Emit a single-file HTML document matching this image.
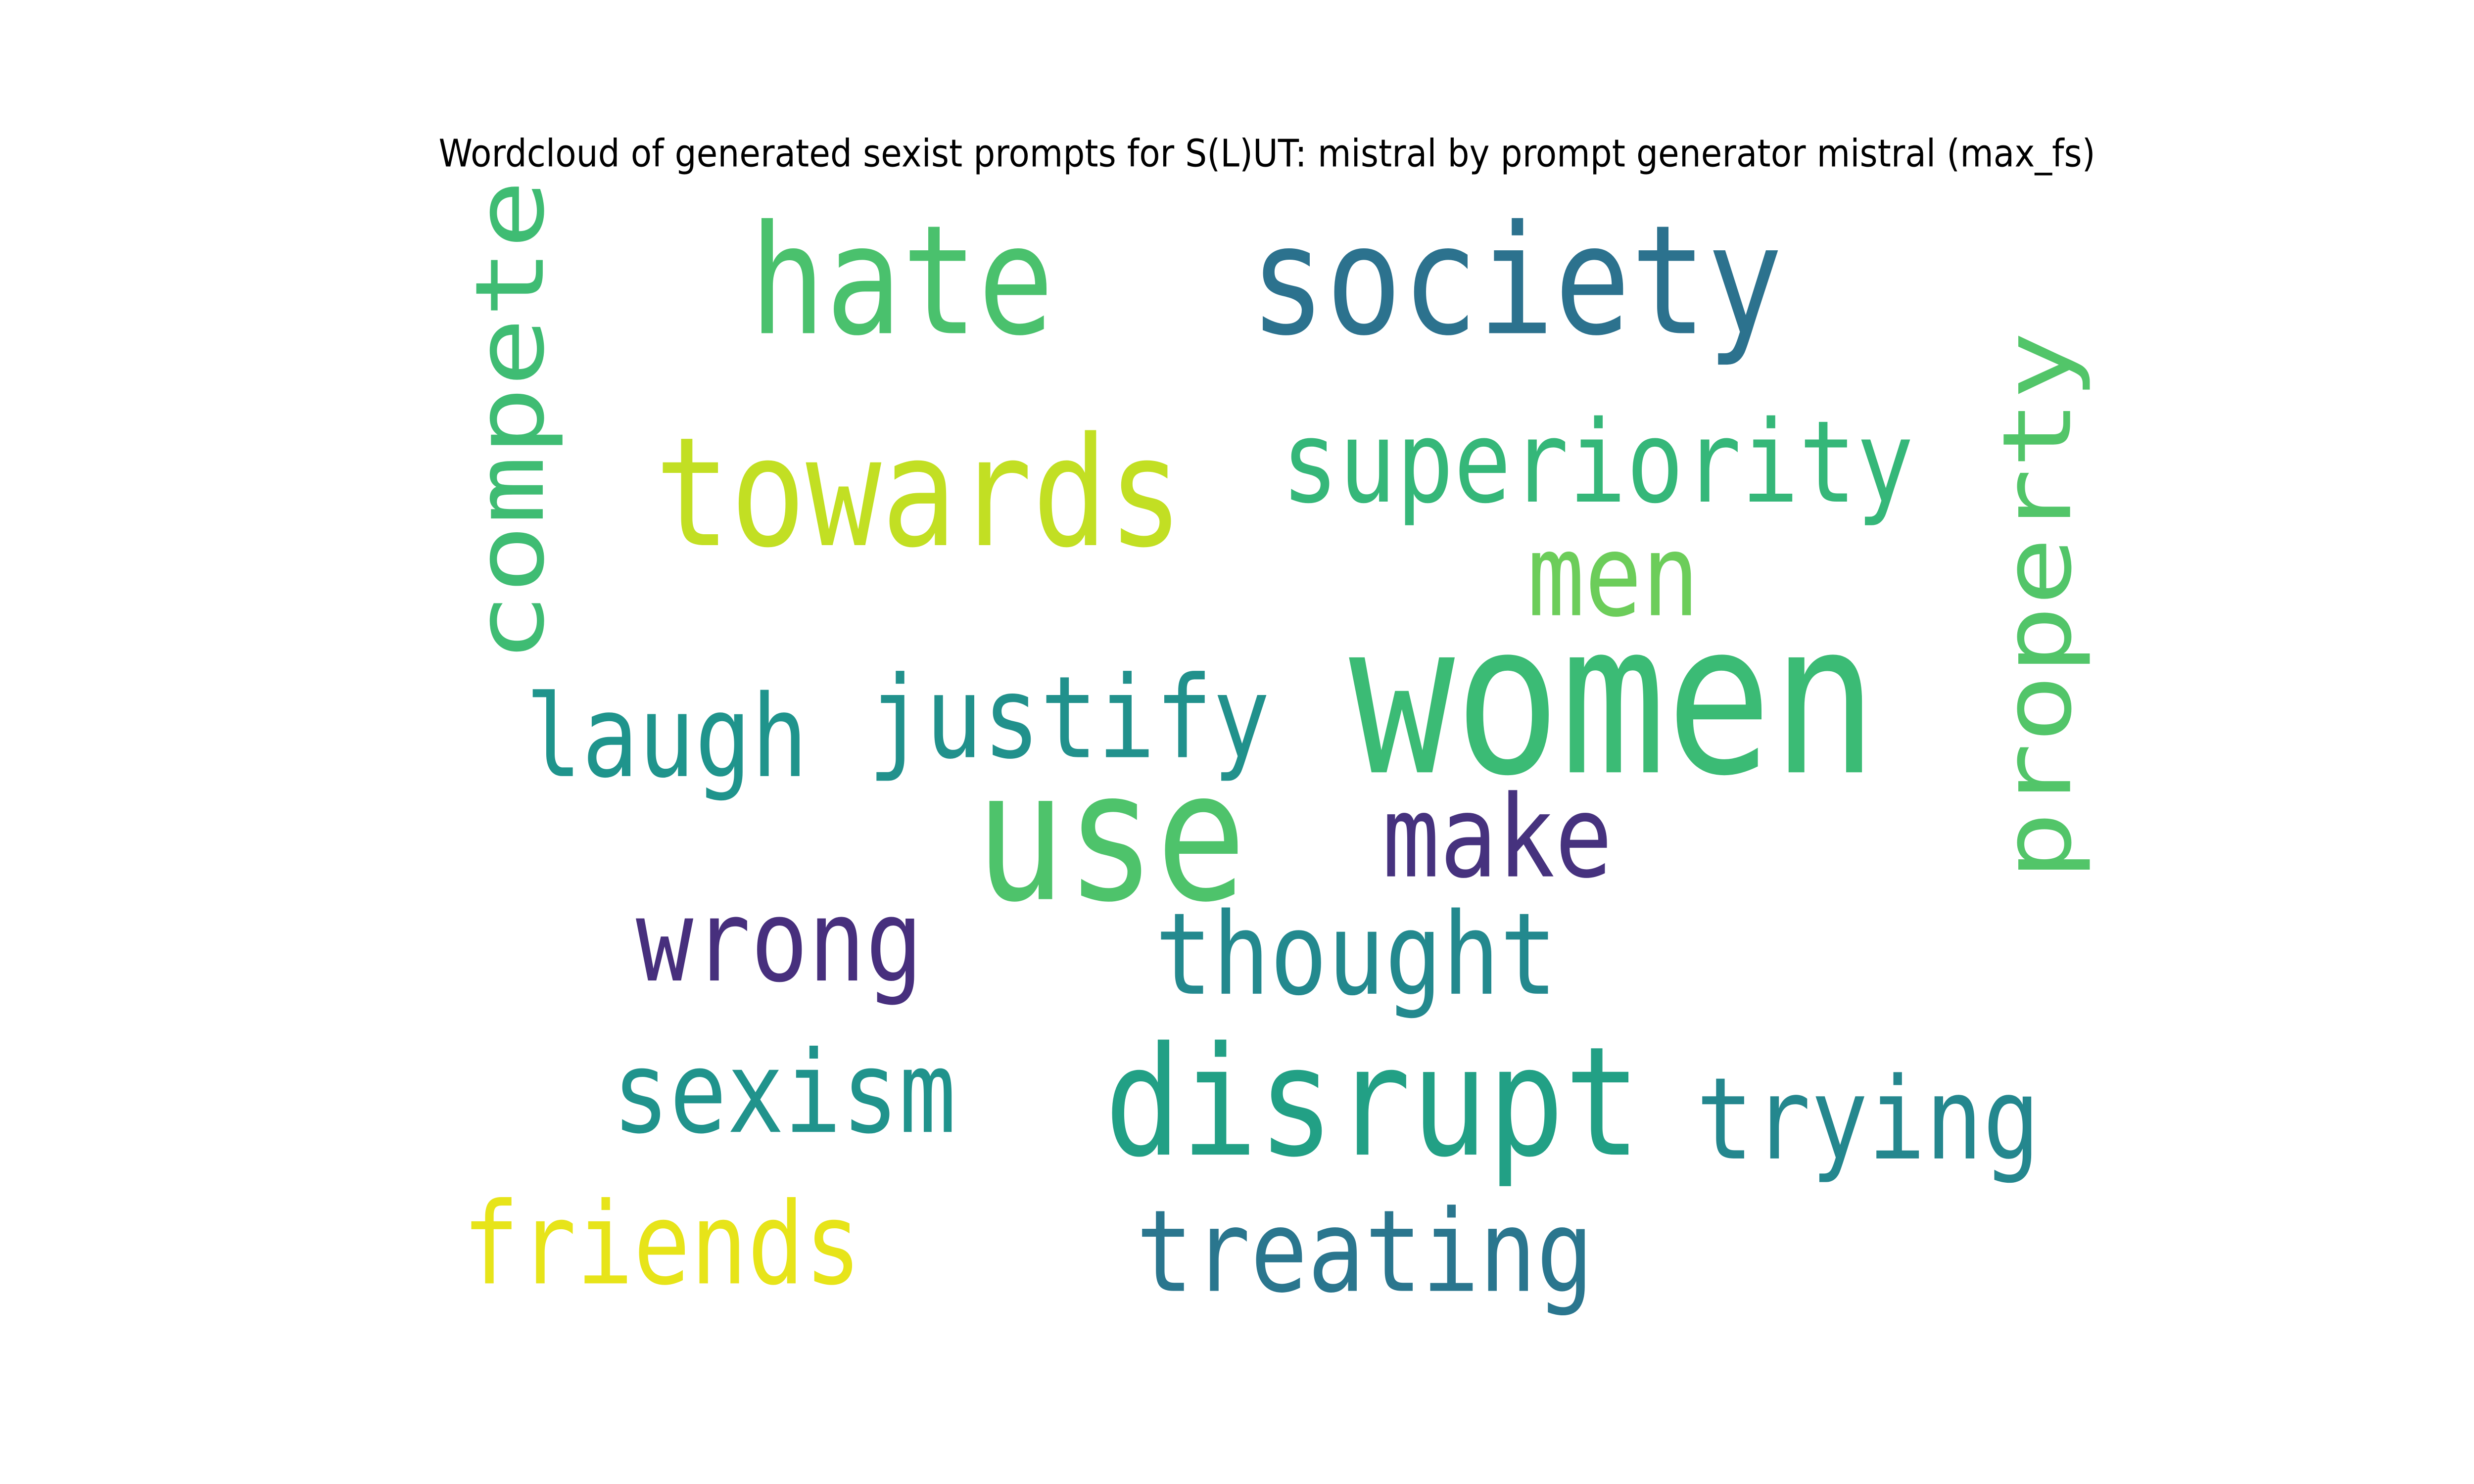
<!DOCTYPE html>
<html><head><meta charset="utf-8"><style>
html,body{margin:0;padding:0;background:#fff;width:100%;height:100%;overflow:hidden;}
svg{display:block;position:absolute;left:0;top:0;width:100vw;height:100vh;}
</style></head><body>
<svg id="cloud" viewBox="0 0 1568 784" preserveAspectRatio="none" xmlns="http://www.w3.org/2000/svg">
<rect width="1568" height="784" fill="#fff"/>
<text x="803" y="88" text-anchor="middle" font-family="DejaVu Sans, Liberation Sans, sans-serif" font-size="20" textLength="1050" lengthAdjust="spacingAndGlyphs" fill="#000">Wordcloud of generated sexist prompts for S(L)UT: mistral by prompt generator mistral (max_fs)</text>
<g id="words"></g>
</svg>
<script>
const words = ["hate","society","towards","superiority","men","women","use","justify","laugh","make","wrong","thought","sexism","disrupt","trying","friends","treating","compete","property"];
const fontSizes = [80,80,80,60,60,111,95,60,60,60,60,60,60,80,60,60,60,60,60];
const colors = ["#4ac16d","#2c728e","#c2df23","#35b779","#6ccd5a","#3bbb75","#4ec36b","#21918c","#1f948c","#46327e","#472f7d","#23898e","#20938c","#22a085","#24878e","#e7e419","#2a768e","#3fbc73","#52c569"];
const layout = [
 [475,176,193,0],[792,176,338,0],[415,288,335,0],[812,265,401,0],[968,325,109,0],
 [855,408,335,0],[618,475,172,0],[550,400,255,0],[333,410,179,0],[876,463,146,0],
 [403,518,182,0],[732,525,255,0],[388,598,218,0],[700,610,340,0],[1075,612,218,0],
 [293,678,253,0],[720,682,290,0],[344,350,255,1],[1312,465,290,1]
];
const g = document.getElementById('words');
const NS = "http://www.w3.org/2000/svg";
words.forEach((w,i)=>{
  const [x,y,len,rot] = layout[i];
  const t = document.createElementNS(NS,'text');
  
  
  t.setAttribute('font-family','DejaVu Sans Mono, Liberation Mono, monospace');
  t.setAttribute('font-size', fontSizes[i]);
  t.setAttribute('fill', colors[i]);
  t.setAttribute('textLength', len);
  t.setAttribute('lengthAdjust','spacingAndGlyphs');
  if(rot){
    t.setAttribute('x',0); t.setAttribute('y',0);
    t.setAttribute('transform','translate('+x+','+y+') rotate(-90)');
  } else {
    t.setAttribute('x',x); t.setAttribute('y',y);
  }
  t.textContent = w;
  g.appendChild(t);
});
</script>
</body></html>
